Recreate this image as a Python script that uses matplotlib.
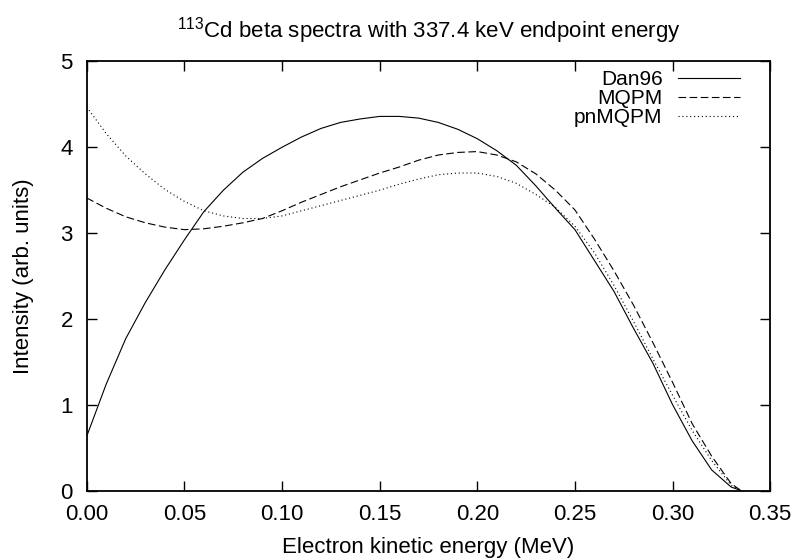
import matplotlib
matplotlib.use("Agg")
import matplotlib.pyplot as plt
import numpy as np

plt.rcParams['font.family'] = ['Liberation Sans', 'DejaVu Sans']
plt.rcParams['mathtext.fontset'] = 'custom'
plt.rcParams['mathtext.rm'] = 'Liberation Sans'
plt.rcParams['lines.scale_dashes'] = False

# electron kinetic energy (MeV)
energy = [0.0, 0.01, 0.02, 0.03, 0.04, 0.05, 0.06, 0.07, 0.08, 0.09,
          0.10, 0.11, 0.12, 0.13, 0.14, 0.15, 0.16, 0.17, 0.18, 0.19,
          0.20, 0.21, 0.22, 0.23, 0.24, 0.25, 0.26, 0.27, 0.28, 0.29,
          0.30, 0.31, 0.32, 0.33, 0.335]

dan96 = [0.63, 1.24, 1.77, 2.19, 2.57, 2.92, 3.25, 3.50, 3.71, 3.87,
         4.00, 4.12, 4.22, 4.29, 4.33, 4.36, 4.36, 4.34, 4.29, 4.21,
         4.10, 3.96, 3.79, 3.55, 3.29, 3.04, 2.68, 2.32, 1.89, 1.48,
         1.00, 0.58, 0.24, 0.04, 0.0]

mqpm = [3.41, 3.29, 3.19, 3.12, 3.07, 3.04, 3.05, 3.08, 3.12, 3.17,
        3.26, 3.36, 3.45, 3.54, 3.62, 3.70, 3.77, 3.85, 3.91, 3.94,
        3.95, 3.91, 3.83, 3.69, 3.50, 3.27, 2.93, 2.56, 2.16, 1.72,
        1.26, 0.78, 0.40, 0.08, 0.0]

pnmqpm = [4.47, 4.16, 3.90, 3.69, 3.51, 3.37, 3.26, 3.20, 3.17, 3.17,
          3.20, 3.26, 3.32, 3.38, 3.44, 3.50, 3.57, 3.63, 3.68, 3.70,
          3.70, 3.66, 3.58, 3.45, 3.30, 3.08, 2.77, 2.39, 1.97, 1.53,
          1.11, 0.70, 0.35, 0.06, 0.0]

xticks = [0.0, 0.05, 0.10, 0.15, 0.20, 0.25, 0.30, 0.35]
yticks = [0, 1, 2, 3, 4, 5]

fs = 16

fig = plt.figure(figsize=(7.93, 5.6), dpi=100)
ax = fig.add_axes([0.1093, 0.1241, 0.862, 0.7661])

ax.plot(energy, dan96, color='black', lw=0.8, ls='-', label='Dan96')
ax.plot(energy, mqpm, color='black', lw=0.8, ls=(0, (5.5, 2.5)), label='MQPM')
ax.plot(energy, pnmqpm, color='black', lw=0.8, ls=(0, (0.8, 2.0)), label='pnMQPM')

ax.set_xlim(0, 0.35)
ax.set_ylim(0, 5)
ax.set_xticks(xticks)
ax.set_xticklabels(['%.2f' % t for t in xticks])
ax.set_yticks(yticks)
ax.set_yticklabels([str(t) for t in yticks])
ax.tick_params(direction='in', length=7, width=1, top=True, right=True,
               labelsize=fs)
ax.tick_params(axis='x', pad=10)
ax.tick_params(axis='y', pad=10)
for s in ax.spines.values():
    s.set_linewidth(1.3)

ax.set_xlabel('Electron kinetic energy (MeV)', fontsize=fs, labelpad=8)
ax.set_ylabel('Intensity (arb. units)', fontsize=fs, labelpad=19)
ax.set_title('$^{113}$Cd beta spectra with 337.4 keV endpoint energy',
             fontsize=fs, pad=17)

ax.legend(loc='upper right', bbox_to_anchor=(0.956, 0.979), frameon=False,
          markerfirst=False, fontsize=15, handlelength=3.0,
          handletextpad=0.72, labelspacing=0.0, borderpad=0,
          borderaxespad=0)

fig.savefig('out.png', dpi=100)
